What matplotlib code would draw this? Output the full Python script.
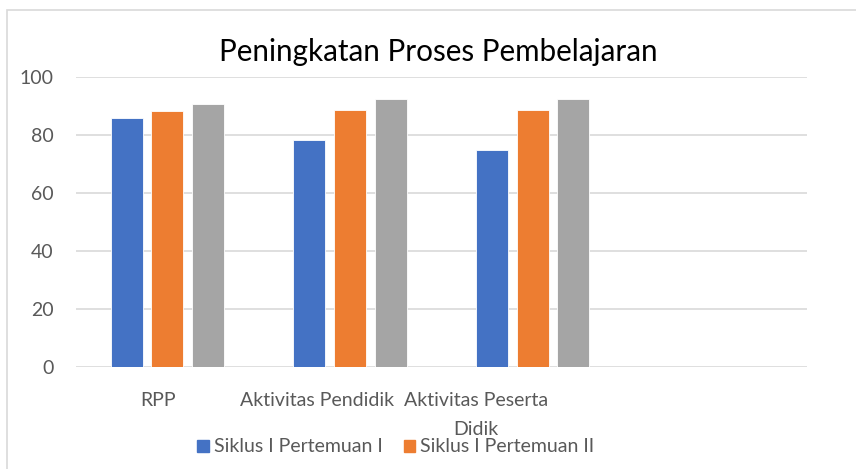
import numpy as np
import matplotlib.pyplot as plt
from matplotlib.patches import Rectangle

# data
categories = ['RPP', 'Aktivitas Pendidik', 'Aktivitas Peserta\nDidik', '']
series_names = ['Siklus I Pertemuan I', 'Siklus I Pertemuan II', 'Siklus II']
siklus1_p1 = [86, 78.3, 74.8]
siklus1_p2 = [88.5, 88.9, 88.9]
siklus2 = [90.8, 92.6, 92.6]
colors = ['#4472c4', '#ed7d31', '#a5a5a5']
yticks = [0, 20, 40, 60, 80, 100]

plt.rcParams['font.family'] = ['Lato', 'DejaVu Sans']

fig = plt.figure(figsize=(8.56, 4.69), dpi=100)
ax = fig.add_axes([0.0888, 0.218, 0.8536, 0.617])

# chart area border (only left/top visible in the reference)
fig.patches.append(Rectangle((7.5 / 856, -0.1), 1.2, 1.1 - 10 / 469, transform=fig.transFigure,
                             fill=False, edgecolor='#d9d9d9', linewidth=1.2))

x = np.arange(len(siklus1_p1))
width = 0.175
step = 0.223
for i, vals in enumerate([siklus1_p1, siklus1_p2, siklus2]):
    ax.bar(x + (i - 1) * step, vals, width, color=colors[i], label=series_names[i],
           edgecolor='white', linewidth=0.6, zorder=3)

ax.set_xlim(-0.5, 3.5)
ax.set_ylim(0, 100)
ax.set_yticks(yticks)
ax.yaxis.grid(True, color='#d9d9d9', linewidth=1.2, zorder=0)
for s in ax.spines.values():
    s.set_visible(False)
ax.tick_params(axis='y', length=0, pad=16, labelsize=14, labelcolor='#595959')

# category labels sit a bit left of the bar groups, as in the reference
label_pos = [-0.05, 0.822, 1.689]
ax.set_xticks(label_pos)
ax.set_xticklabels(categories[:3], linespacing=1.9)
ax.tick_params(axis='x', length=0, pad=18, labelsize=14, labelcolor='#595959')

fig.text(0.512, 0.89, 'Peningkatan Proses Pembelajaran', ha='center', va='center',
         fontsize=21.3, color='black')

# only the first two legend entries fit in the reference
handles = [Rectangle((0, 0), 1, 1, color=colors[0]), Rectangle((0, 0), 1, 1, color=colors[1])]
leg = fig.legend(handles, series_names[:2], loc='center', bbox_to_anchor=(0.4626, 0.047),
                 ncol=2, frameon=False, fontsize=14, handlelength=0.57, handleheight=0.57,
                 handletextpad=0.26, columnspacing=1.13, borderpad=0)
for t in leg.get_texts():
    t.set_color('#595959')

fig.savefig('out.png', dpi=100)
